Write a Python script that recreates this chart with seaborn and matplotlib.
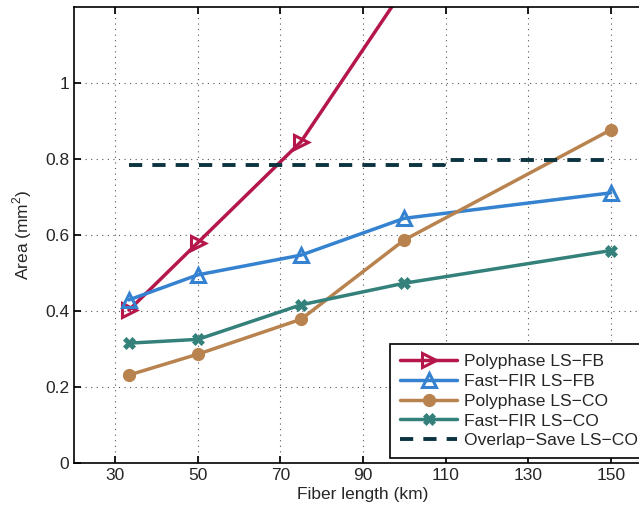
import numpy as np
import pandas as pd
import matplotlib
matplotlib.use("Agg")
import matplotlib.pyplot as plt
import seaborn as sns

# Data
x_poly_fb = [33.3, 50, 75, 100]
y_poly_fb = [0.402, 0.580, 0.846, 1.25]

x_fir_fb = [33.3, 50, 75, 100, 150]
y_fir_fb = [0.429, 0.495, 0.547, 0.644, 0.711]

x_poly_co = [33.3, 50, 75, 100, 150]
y_poly_co = [0.231, 0.286, 0.378, 0.587, 0.877]

x_fir_co = [33.3, 50, 75, 100, 150]
y_fir_co = [0.315, 0.325, 0.416, 0.473, 0.559]

x_ols = [33.3, 109.5, 109.5, 150]
y_ols = [0.785, 0.785, 0.798, 0.798]

labels = ["Polyphase LS\u2212FB", "Fast\u2212FIR LS\u2212FB", "Polyphase LS\u2212CO",
          "Fast\u2212FIR LS\u2212CO", "Overlap\u2212Save LS\u2212CO"]
colors = ["#B5174B", "#3582D0", "#B8834E", "#34807A", "#0C3440"]

sns.set_theme(style="white")
plt.rcParams['font.family'] = ['Liberation Sans', 'DejaVu Sans']
plt.rcParams['mathtext.fontset'] = 'custom'
plt.rcParams['mathtext.rm'] = 'Liberation Sans'

fig = plt.figure(figsize=(6.39, 5.11), dpi=100)
ax = fig.add_axes([74/639, 48.3/511, 578/639, 455.4/511])

series = [
    (x_poly_fb, y_poly_fb, dict(marker=">", markersize=10.5, markerfacecolor="none", markeredgewidth=2.2)),
    (x_fir_fb, y_fir_fb, dict(marker="^", markersize=10.5, markerfacecolor="none", markeredgewidth=2.2)),
    (x_poly_co, y_poly_co, dict(marker="o", markersize=8, markeredgewidth=1.5)),
    (x_fir_co, y_fir_co, dict(marker="X", markersize=8, markeredgewidth=0.5)),
]
for (xs, ys, kw), lab, c in zip(series, labels[:4], colors[:4]):
    df = pd.DataFrame({"x": xs, "y": ys})
    sns.lineplot(data=df, x="x", y="y", ax=ax, color=c, linewidth=2.5, label=lab,
                 markeredgecolor=c, sort=False, estimator=None, **kw)

df = pd.DataFrame({"x": x_ols, "y": y_ols})
sns.lineplot(data=df, x="x", y="y", ax=ax, color=colors[4], linewidth=2.8, label=labels[4],
             sort=False, estimator=None, linestyle=(0, (3.4, 2.6)))

ax.set_xlim(20, 160)
ax.set_ylim(0, 1.2)
ax.set_xticks([30, 50, 70, 90, 110, 130, 150])
ax.set_yticks([0, 0.2, 0.4, 0.6, 0.8, 1.0])
ax.set_yticklabels(["0", "0.2", "0.4", "0.6", "0.8", "1"])
ax.grid(True, linestyle=(0, (1, 4)), color="#555555", linewidth=0.8)
ax.tick_params(direction="in", length=5, labelsize=12.5, color="black", bottom=True, left=True, top=True)
for s in ax.spines.values():
    s.set_color("black")
    s.set_linewidth(1.2)
ax.set_xlabel("Fiber length (km)", fontsize=12.5, labelpad=3)
ax.set_ylabel("Area (mm$^2$)", fontsize=12.5, labelpad=8)

leg = ax.legend(loc="lower left", bbox_to_anchor=(390/639, 53/511), bbox_transform=fig.transFigure,
                fontsize=12.6, frameon=True, fancybox=False, edgecolor="black", framealpha=1,
                handlelength=3.3, borderpad=0.55, labelspacing=0.26, handletextpad=0.4,
                borderaxespad=0)
leg.get_frame().set_linewidth(1.2)

fig.savefig("out.png", dpi=100)
